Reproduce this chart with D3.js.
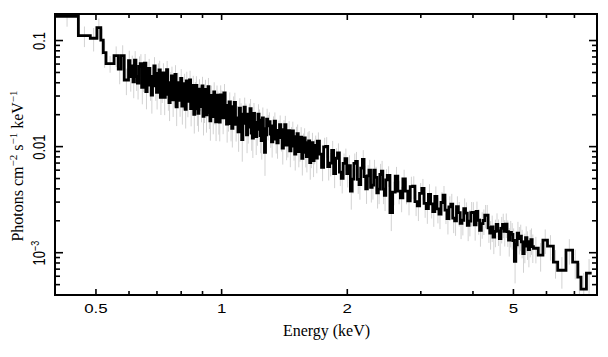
<!DOCTYPE html>
<html><head><meta charset="utf-8">
<script src="https://cdn.jsdelivr.net/npm/d3@7"></script>
<style>body{margin:0;background:#fff}svg{display:block}</style>
</head><body>
<svg id="c" width="608" height="357"></svg>
<script>
// bin edges (keV)
const binEdges = [
 0.400,0.455,0.486,0.504,0.515,0.522,0.530,0.554,0.567,0.576,0.586,
 0.600,0.605,0.610,0.615,0.620,0.625,0.630,0.635,0.640,0.645,
 0.650,0.655,0.660,0.665,0.670,0.675,0.680,0.685,0.690,0.695,
 0.700,0.705,0.710,0.715,0.720,0.725,0.730,0.735,0.740,0.745,
 0.750,0.755,0.760,0.765,0.770,0.775,0.780,0.785,0.790,0.795,
 0.800,0.805,0.810,0.815,0.820,0.825,0.830,0.835,0.840,0.845,
 0.850,0.855,0.860,0.865,0.870,0.875,0.880,0.885,0.890,0.895,
 0.900,0.905,0.910,0.915,0.920,0.925,0.930,0.935,0.940,0.945,
 0.950,0.955,0.960,0.965,0.970,0.975,0.980,0.985,0.990,0.995,
 1.0000,1.0075,1.0150,1.0225,1.0300,1.0375,1.0450,1.0525,1.0600,1.0675,
 1.0750,1.0825,1.0900,1.0975,1.1050,1.1125,1.1200,1.1275,1.1350,1.1425,
 1.1500,1.1575,1.1650,1.1725,1.1800,1.1875,1.1950,1.2025,1.2100,1.2175,
 1.2250,1.2325,1.2400,1.2475,1.2550,1.2625,1.2700,1.2775,1.2850,1.2925,
 1.30,1.31,1.32,1.33,1.34,1.35,1.36,1.37,1.38,1.39,
 1.40,1.41,1.42,1.43,1.44,1.45,1.46,1.47,1.48,1.49,
 1.50,1.51,1.52,1.53,1.54,1.55,1.56,1.57,1.58,1.59,
 1.60,1.61,1.62,1.63,1.64,1.65,1.66,1.67,1.68,1.69,
 1.70,1.72,1.74,1.76,1.78,1.80,1.82,1.84,1.86,1.88,
 1.90,1.92,1.94,1.96,1.98,2.00,2.02,2.04,2.06,2.08,
 2.10,2.12,2.14,2.16,2.18,2.20,2.22,2.24,2.26,2.28,
 2.30,2.32,2.34,2.36,2.38,2.40,2.42,2.44,2.46,2.48,
 2.5000,2.5375,2.5750,2.6125,2.6500,2.6875,2.7250,2.7625,2.8000,2.8375,
 2.8750,2.9125,2.9500,2.9875,3.0250,3.0625,3.1000,3.1375,3.1750,3.2125,
 3.2500,3.2875,3.3250,3.3625,3.4000,3.4375,3.4750,3.5125,3.5500,3.5875,
 3.6250,3.6625,3.7000,3.7375,3.7750,3.8125,3.8500,3.8875,3.9250,3.9625,
 4.00,4.04,4.08,4.12,4.16,4.20,4.24,4.28,4.32,4.36,
 4.40,4.44,4.48,4.52,4.56,4.60,4.64,4.68,4.72,4.76,
 4.80,4.84,4.88,4.92,4.96,5.00,5.04,5.08,5.12,5.16,
 5.20,5.24,5.28,5.32,5.36,5.40,5.44,5.48,5.52,5.56,
 5.600,5.750,5.900,6.050,6.250,6.400,6.700,6.950,7.150,7.280,7.500,7.720
];
// photons cm^-2 s^-1 keV^-1 per bin
const flux = [
 0.167,0.110,0.104,0.131,0.100,0.0762,0.0600,0.0714,0.0532,0.0714,0.0420,
 0.0640,0.0453,0.0570,0.0404,0.0645,0.0454,0.0393,0.0565,0.0598,0.0359,
 0.0443,0.0606,0.0327,0.0499,0.0540,0.0377,0.0302,0.0454,0.0570,0.0371,
 0.0321,0.0486,0.0523,0.0289,0.0354,0.0491,0.0288,0.0430,0.0525,0.0308,
 0.0257,0.0396,0.0460,0.0273,0.0324,0.0475,0.0234,0.0396,0.0354,0.0270,
 0.0436,0.0238,0.0307,0.0388,0.0222,0.0412,0.0264,0.0348,0.0421,0.0226,
 0.0275,0.0374,0.0199,0.0322,0.0374,0.0225,0.0204,0.0345,0.0292,0.0236,
 0.0369,0.0191,0.0236,0.0343,0.0197,0.0302,0.0363,0.0207,0.0173,0.0300,
 0.0250,0.0190,0.0325,0.0221,0.0169,0.0303,0.0262,0.0186,0.0168,0.0304,
 0.0270,0.0185,0.0318,0.0242,0.0161,0.0193,0.0261,0.0163,0.0147,0.0235,
 0.0259,0.0160,0.0185,0.0136,0.0228,0.0200,0.0115,0.0164,0.0233,0.0200,
 0.0128,0.0151,0.0200,0.0226,0.0133,0.0119,0.0204,0.0167,0.0123,0.0144,
 0.0200,0.0176,0.0126,0.0113,0.0185,0.0146,0.00874,0.0128,0.0180,0.0155,
 0.01705,0.01301,0.01098,0.01549,0.01716,0.01167,0.01071,0.01406,0.01595,0.01202,
 0.00957,0.01429,0.01595,0.01022,0.01071,0.01400,0.00904,0.01213,0.01394,0.00999,
 0.00841,0.01227,0.01311,0.00889,0.00978,0.01217,0.00766,0.01043,0.01197,0.00874,
 0.00796,0.01081,0.01118,0.00699,0.00861,0.01076,0.00729,0.00911,0.01014,0.00770,
 0.01113,0.00839,0.00631,0.00982,0.00996,0.00641,0.00691,0.00911,0.00550,0.00769,
 0.00863,0.00568,0.00497,0.00687,0.00764,0.00551,0.00656,0.00376,0.00489,0.00687,
 0.00717,0.00486,0.00434,0.00620,0.00751,0.00517,0.00396,0.00525,0.00594,0.00408,
 0.00429,0.00594,0.00507,0.00363,0.00394,0.00540,0.00581,0.00394,0.00344,0.00481,
 0.00529,0.00236,0.00369,0.00522,0.00377,0.00326,0.00491,0.00377,0.00305,0.00415,
 0.00419,0.00300,0.00273,0.00359,0.00399,0.00289,0.00257,0.00350,0.00285,0.00241,
 0.00336,0.00256,0.00229,0.00294,0.00345,0.00249,0.00207,0.00267,0.00284,0.00210,
 0.00198,0.00269,0.00236,0.00187,0.00200,0.00257,0.00234,0.00179,0.00196,0.00236,
 0.00237,0.00181,0.00242,0.00200,0.00161,0.00186,0.00199,0.00223,0.00223,0.00170,
 0.00151,0.00173,0.00139,0.00157,0.00183,0.00159,0.00134,0.00168,0.00183,0.00157,
 0.00184,0.00156,0.00130,0.00154,0.00147,0.00129,0.00082,0.00117,0.00151,0.00134,
 0.00142,0.00125,0.00097,0.00114,0.00137,0.00121,0.00106,0.00126,0.00131,0.00113,
 0.00109,0.000937,0.00130,0.00114,0.000805,0.000676,0.001045,0.000805,0.000581,0.000448,0.000634
];
// relative 1-sigma errors per bin
const relErr = [
 0.20,0.22,0.25,0.22,0.28,0.28,0.18,0.22,0.28,0.25,0.28,
 0.24,0.28,0.25,0.30,0.22,0.27,0.30,0.24,0.23,0.31,
 0.27,0.22,0.32,0.25,0.23,0.29,0.33,0.26,0.21,0.28,
 0.31,0.24,0.22,0.32,0.28,0.23,0.32,0.25,0.21,0.30,
 0.33,0.26,0.22,0.31,0.28,0.22,0.34,0.24,0.26,0.30,
 0.22,0.33,0.28,0.24,0.34,0.22,0.29,0.25,0.22,0.32,
 0.28,0.23,0.34,0.25,0.22,0.31,0.33,0.24,0.27,0.29,
 0.22,0.34,0.30,0.23,0.32,0.25,0.21,0.30,0.35,0.24,
 0.27,0.32,0.23,0.28,0.34,0.23,0.25,0.31,0.34,0.23,
 0.24,0.30,0.21,0.26,0.33,0.29,0.23,0.32,0.34,0.25,
 0.23,0.31,0.29,0.35,0.24,0.27,0.38,0.30,0.23,0.26,
 0.33,0.30,0.26,0.23,0.32,0.35,0.25,0.28,0.33,0.30,
 0.24,0.26,0.32,0.34,0.25,0.28,0.40,0.31,0.25,0.27,
 0.22,0.26,0.29,0.23,0.21,0.27,0.29,0.24,0.22,0.26,
 0.30,0.23,0.21,0.28,0.27,0.23,0.30,0.25,0.22,0.27,
 0.30,0.24,0.22,0.29,0.27,0.24,0.31,0.26,0.23,0.28,
 0.29,0.25,0.24,0.31,0.28,0.24,0.30,0.26,0.24,0.28,
 0.21,0.23,0.26,0.22,0.22,0.26,0.25,0.23,0.27,0.24,
 0.23,0.26,0.28,0.24,0.24,0.26,0.25,0.33,0.27,0.24,
 0.23,0.27,0.28,0.24,0.22,0.26,0.28,0.26,0.25,0.28,
 0.27,0.25,0.26,0.29,0.28,0.26,0.25,0.28,0.29,0.26,
 0.22,0.33,0.25,0.22,0.25,0.27,0.22,0.25,0.27,0.24,
 0.24,0.27,0.28,0.25,0.23,0.27,0.28,0.25,0.27,0.28,
 0.24,0.27,0.28,0.25,0.22,0.26,0.29,0.26,0.25,0.28,
 0.28,0.25,0.26,0.29,0.28,0.25,0.26,0.29,0.28,0.26,
 0.25,0.29,0.24,0.27,0.30,0.28,0.27,0.25,0.25,0.28,
 0.30,0.28,0.31,0.29,0.27,0.28,0.31,0.28,0.26,0.28,
 0.26,0.28,0.30,0.28,0.28,0.30,0.38,0.31,0.28,0.29,
 0.28,0.30,0.34,0.31,0.28,0.30,0.32,0.29,0.28,0.30,
 0.28,0.30,0.26,0.27,0.30,0.33,0.27,0.31,0.36,0.42,0.36
];
const xTickMajor = [0.5, 1, 2, 5];
const xTickLabels = ["0.5", "1", "2", "5"];
const xTickMinor = [0.6, 0.7, 0.8, 0.9, 3, 4, 6, 7];
const yTickMajor = [0.1, 0.01, 0.001];
const yTickMinor = [0.0004,0.0005,0.0006,0.0007,0.0008,0.0009,
  0.002,0.003,0.004,0.005,0.006,0.007,0.008,0.009,
  0.02,0.03,0.04,0.05,0.06,0.07,0.08,0.09];
const xDomain = [0.4, 7.95];
const yDomain = [3.95e-4, 0.176];
const xTitle = "Energy (keV)";

const svg = d3.select("#c");
const m = {l: 55, r: 597, t: 14, b: 295};
const x = d3.scaleLog().domain(xDomain).range([m.l, m.r]);
const y = d3.scaleLog().domain(yDomain).range([m.b, m.t]);

svg.append("defs").append("clipPath").attr("id", "clip")
  .append("rect").attr("x", m.l).attr("y", m.t).attr("width", m.r - m.l).attr("height", m.b - m.t);

const plot = svg.append("g").attr("clip-path", "url(#clip)");

// error bars
const centers = flux.map((f, i) => (binEdges[i] + binEdges[i + 1]) / 2);
plot.append("g").selectAll("line").data(flux).join("line")
  .attr("x1", (d, i) => x(centers[i])).attr("x2", (d, i) => x(centers[i]))
  .attr("y1", (d, i) => y(d * (1 + relErr[i])))
  .attr("y2", (d, i) => y(d * (1 - relErr[i])))
  .attr("stroke", "#d2d2d2").attr("stroke-width", 1);

// step line
const pts = binEdges.map((e, i) => [e, flux[Math.min(i, flux.length - 1)]]);
plot.append("path").datum(pts)
  .attr("d", d3.line().x(d => x(d[0])).y(d => y(d[1])).curve(d3.curveStepAfter))
  .attr("fill", "none").attr("stroke", "#000").attr("stroke-width", 2.8)
  .attr("stroke-linejoin", "miter");

function styleAxis(g) {
  g.select(".domain").remove();
  g.selectAll(".tick line").attr("stroke", "#000").attr("stroke-width", 1.6);
}
const sans = "'Liberation Sans', Arial, Helvetica, sans-serif";
const serif = "'Liberation Serif', 'Times New Roman', serif";

// bottom
svg.append("g").attr("transform", `translate(0,${m.b})`)
  .call(d3.axisBottom(x).tickValues(xTickMajor).tickSize(-6).tickPadding(9).tickFormat((d, i) => xTickLabels[i]))
  .call(styleAxis)
  .call(g => g.selectAll("text").attr("font-family", sans).attr("font-size", 13).attr("fill", "#000")
     .attr("transform", "scale(1.3,1)"));
svg.append("g").attr("transform", `translate(0,${m.b})`)
  .call(d3.axisBottom(x).tickValues(xTickMinor).tickSize(-4).tickFormat(""))
  .call(styleAxis);
// top
svg.append("g").attr("transform", `translate(0,${m.t})`)
  .call(d3.axisTop(x).tickValues(xTickMajor).tickSize(-6).tickFormat(""))
  .call(styleAxis);
svg.append("g").attr("transform", `translate(0,${m.t})`)
  .call(d3.axisTop(x).tickValues(xTickMinor).tickSize(-4).tickFormat(""))
  .call(styleAxis);
// left
svg.append("g").attr("transform", `translate(${m.l},0)`)
  .call(d3.axisLeft(y).tickValues(yTickMajor).tickSize(-8).tickFormat(""))
  .call(styleAxis);
svg.append("g").attr("transform", `translate(${m.l},0)`)
  .call(d3.axisLeft(y).tickValues(yTickMinor).tickSize(-5).tickFormat(""))
  .call(styleAxis);
// right
svg.append("g").attr("transform", `translate(${m.r},0)`)
  .call(d3.axisRight(y).tickValues(yTickMajor).tickSize(-8).tickFormat(""))
  .call(styleAxis);
svg.append("g").attr("transform", `translate(${m.r},0)`)
  .call(d3.axisRight(y).tickValues(yTickMinor).tickSize(-5).tickFormat(""))
  .call(styleAxis);

// y tick labels (rotated)
const yLab = svg.append("g").attr("font-family", sans).attr("font-size", 13).attr("fill", "#000");
yTickMajor.forEach(v => {
  const t = yLab.append("text").attr("text-anchor", "middle")
    .attr("transform", `translate(45,${y(v) + 1}) scale(1.3,1) rotate(-90)`);
  if (v === 0.1) t.text("0.1");
  else if (v === 0.01) t.text("0.01");
  else {
    t.append("tspan").text("10");
    t.append("tspan").attr("dy", -5).attr("font-size", 9).text("−3");
  }
});

// frame
svg.append("rect").attr("x", m.l).attr("y", m.t).attr("width", m.r - m.l).attr("height", m.b - m.t)
  .attr("fill", "none").attr("stroke", "#000").attr("stroke-width", 2);

// axis titles
svg.append("text").attr("x", (m.l + m.r) / 2 + 0.5).attr("y", 336)
  .attr("text-anchor", "middle").attr("font-family", serif).attr("font-size", 16).text(xTitle);

const yt = svg.append("text").attr("transform", "translate(22.5,166) rotate(-90)")
  .attr("text-anchor", "middle").attr("font-family", serif).attr("font-size", 16);
yt.append("tspan").text("Photons cm");
yt.append("tspan").attr("dy", -6).attr("font-size", 11).text("−2");
yt.append("tspan").attr("dy", 6).text(" s");
yt.append("tspan").attr("dy", -6).attr("font-size", 11).text("−1");
yt.append("tspan").attr("dy", 6).text(" keV");
yt.append("tspan").attr("dy", -6).attr("font-size", 11).text("−1");
</script>
</body></html>
